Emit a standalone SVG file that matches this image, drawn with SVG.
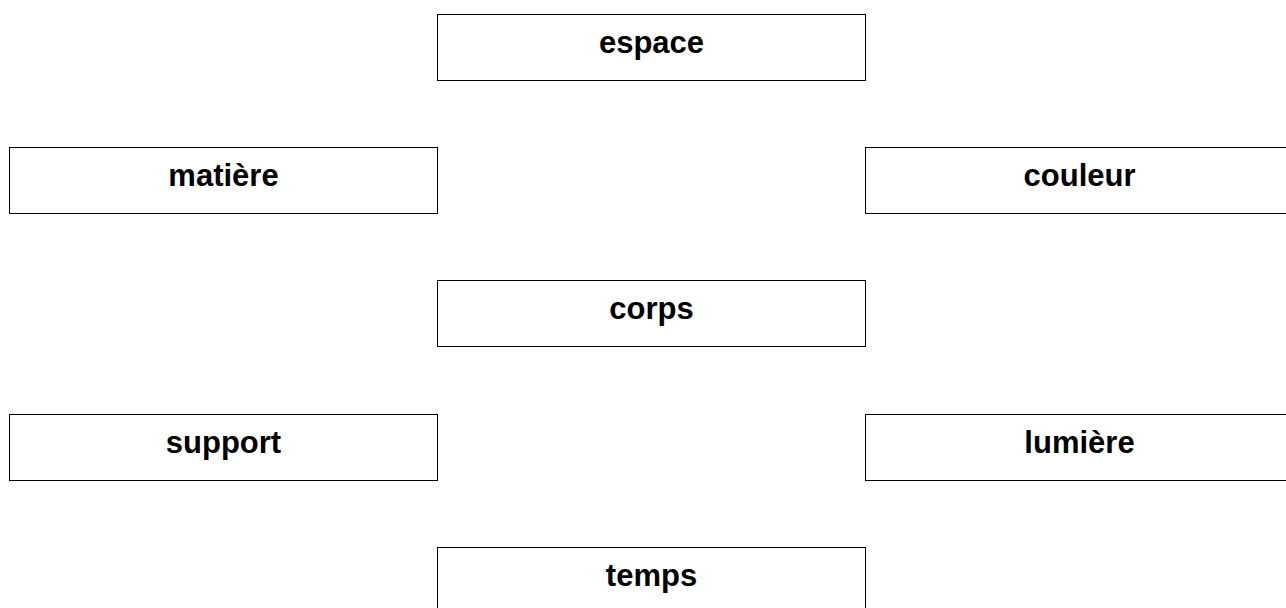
<svg xmlns="http://www.w3.org/2000/svg" width="1286" height="608" viewBox="0 0 1286 608">
<style>
.box{fill:#fff;stroke:#000;stroke-width:1}
.lbl{font-family:"Liberation Sans",Arial,sans-serif;font-weight:bold;font-size:31px;fill:#000;text-anchor:middle}
</style>
<rect width="1286" height="608" fill="#fff"/>
<g id="espace"><rect class="box" x="437.5" y="14.5" width="428" height="66"/><text class="lbl" x="651.5" y="53">espace</text></g>
<g id="matiere"><rect class="box" x="9.5" y="147.5" width="428" height="66"/><text class="lbl" x="223.5" y="186">matière</text></g>
<g id="couleur"><rect class="box" x="865.5" y="147.5" width="428" height="66"/><text class="lbl" x="1079.5" y="186">couleur</text></g>
<g id="corps"><rect class="box" x="437.5" y="280.5" width="428" height="66"/><text class="lbl" x="651.5" y="319">corps</text></g>
<g id="support"><rect class="box" x="9.5" y="414.5" width="428" height="66"/><text class="lbl" x="223.5" y="453">support</text></g>
<g id="lumiere"><rect class="box" x="865.5" y="414.5" width="428" height="66"/><text class="lbl" x="1079.5" y="453">lumière</text></g>
<g id="temps"><rect class="box" x="437.5" y="547.5" width="428" height="66"/><text class="lbl" x="651.5" y="586">temps</text></g>
<g id="connectors"></g>
</svg>
